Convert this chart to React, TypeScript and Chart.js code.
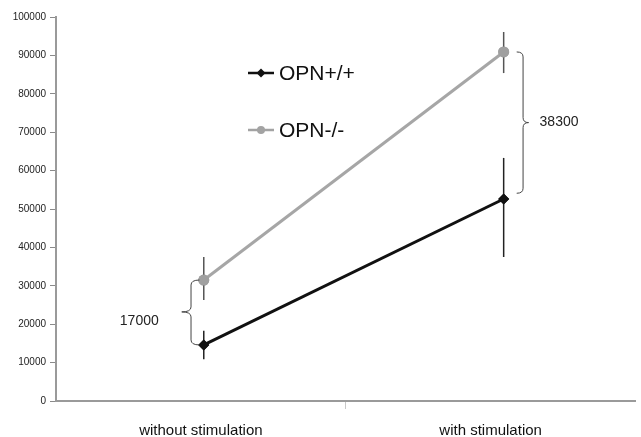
import React, { useEffect, useRef } from "react";
import { Chart, registerables } from "chart.js";

Chart.register(...registerables);

const categories = ["without stimulation", "with stimulation"];
const pointX = [0.51, 1.545];
const seriesNames = ["OPN+/+", "OPN-/-"];
const wildType = [14600, 52600];
const wildTypeLow = [10900, 37500];
const wildTypeHigh = [18300, 63300];
const knockout = [31500, 90900];
const knockoutLow = [26300, 85400];
const knockoutHigh = [37500, 96100];
const differenceLabels = ["17000", "38300"];
const yTicks = [0, 10000, 20000, 30000, 40000, 50000, 60000, 70000, 80000, 90000, 100000];

const FONT = "'Liberation Sans', Arial, sans-serif";

function drawBrace(
  ctx: CanvasRenderingContext2D,
  xLine: number,
  xTip: number,
  xEnd: number,
  yTop: number,
  yBottom: number,
  yMid: number
) {
  const r = 5;
  ctx.beginPath();
  ctx.moveTo(xEnd, yTop);
  ctx.quadraticCurveTo(xLine, yTop, xLine, yTop + r);
  ctx.lineTo(xLine, yMid - r);
  ctx.quadraticCurveTo(xLine, yMid, xTip, yMid);
  ctx.quadraticCurveTo(xLine, yMid, xLine, yMid + r);
  ctx.lineTo(xLine, yBottom - r);
  ctx.quadraticCurveTo(xLine, yBottom, xEnd, yBottom);
  ctx.stroke();
}

const overlayPlugin = {
  id: "overlay",
  afterDatasetsDraw(chart: any) {
    const ctx: CanvasRenderingContext2D = chart.ctx;
    const xs = chart.scales.x;
    const ys = chart.scales.y;
    ctx.save();
    // error bars
    const bars = [
      { x: pointX, lo: knockoutLow, hi: knockoutHigh, color: "#555" },
      { x: pointX, lo: wildTypeLow, hi: wildTypeHigh, color: "#222" },
    ];
    bars.forEach((b) => {
      ctx.strokeStyle = b.color;
      ctx.lineWidth = 1.5;
      b.x.forEach((xv, i) => {
        const px = xs.getPixelForValue(xv);
        ctx.beginPath();
        ctx.moveTo(px, ys.getPixelForValue(b.hi[i]));
        ctx.lineTo(px, ys.getPixelForValue(b.lo[i]));
        ctx.stroke();
      });
    });
    // redraw points on top of bars
    chart.getSortedVisibleDatasetMetas().forEach((meta: any) => {
      meta.data.forEach((el: any) => el.draw(ctx, chart.chartArea));
    });
    // braces
    ctx.strokeStyle = "#444";
    ctx.lineWidth = 1;
    const b1 = {
      line: xs.getPixelForValue(0.466),
      tip: xs.getPixelForValue(0.434),
      end: xs.getPixelForValue(0.495),
      top: ys.getPixelForValue(knockout[0]),
      bot: ys.getPixelForValue(wildType[0]),
    };
    drawBrace(ctx, b1.line, b1.tip, b1.end, b1.top, b1.bot, ys.getPixelForValue(23200));
    const b2 = {
      line: xs.getPixelForValue(1.612),
      tip: xs.getPixelForValue(1.631),
      end: xs.getPixelForValue(1.59),
      top: ys.getPixelForValue(knockout[1]),
      bot: ys.getPixelForValue(wildType[1] + 1500),
    };
    drawBrace(ctx, b2.line, b2.tip, b2.end, b2.top, b2.bot, ys.getPixelForValue(72500));
    ctx.fillStyle = "#222";
    ctx.font = `14px ${FONT}`;
    ctx.textBaseline = "middle";
    ctx.textAlign = "right";
    ctx.fillText(differenceLabels[0], b1.tip - 23, ys.getPixelForValue(20800));
    ctx.textAlign = "left";
    ctx.fillText(differenceLabels[1], b2.tip + 11, ys.getPixelForValue(72500));

    // legend
    const items = [
      { name: seriesNames[0], color: "#111", style: "rectRot", y: 73 },
      { name: seriesNames[1], color: "#a3a3a3", style: "circle", y: 130 },
    ];
    items.forEach((it) => {
      ctx.strokeStyle = it.color;
      ctx.lineWidth = 2.5;
      ctx.beginPath();
      ctx.moveTo(248, it.y);
      ctx.lineTo(274, it.y);
      ctx.stroke();
      ctx.fillStyle = it.color;
      ctx.beginPath();
      if (it.style === "circle") {
        ctx.arc(261, it.y, 4, 0, Math.PI * 2);
      } else {
        ctx.moveTo(261, it.y - 4.5);
        ctx.lineTo(265.5, it.y);
        ctx.lineTo(261, it.y + 4.5);
        ctx.lineTo(256.5, it.y);
        ctx.closePath();
      }
      ctx.fill();
      ctx.fillStyle = "#111";
      ctx.font = `21px ${FONT}`;
      ctx.textAlign = "left";
      ctx.textBaseline = "middle";
      ctx.fillText(it.name, 279, it.y + 1);
    });
    ctx.restore();
  },
};

export default function App() {
  const canvasRef = useRef<HTMLCanvasElement | null>(null);

  useEffect(() => {
    if (!canvasRef.current) return;
    const chart = new Chart(canvasRef.current, {
      type: "line",
      data: {
        datasets: [
          {
            label: seriesNames[1],
            data: pointX.map((x, i) => ({ x, y: knockout[i] })),
            borderColor: "#a6a6a6",
            backgroundColor: "#a0a0a0",
            borderWidth: 3,
            pointStyle: "circle",
            pointRadius: 5.5,
            pointBorderWidth: 0,
          },
          {
            label: seriesNames[0],
            data: pointX.map((x, i) => ({ x, y: wildType[i] })),
            borderColor: "#111",
            backgroundColor: "#111",
            borderWidth: 3,
            pointStyle: "rectRot",
            pointRadius: 5.5,
            pointBorderWidth: 0,
          },
        ],
      },
      options: {
        animation: false,
        responsive: false,
        maintainAspectRatio: false,
        layout: { padding: { top: 17, right: 1, left: 0, bottom: 0 } },
        plugins: { legend: { display: false }, tooltip: { enabled: false } },
        scales: {
          x: {
            type: "linear",
            min: 0,
            max: 2,
            afterBuildTicks: (axis: any) => {
              axis.ticks = [0, 0.5, 1, 1.5, 2].map((v) => ({ value: v }));
            },
            afterFit: (axis: any) => {
              axis.height = 36;
              axis.paddingRight = 0;
              axis.paddingLeft = 0;
            },
            ticks: {
              autoSkip: false,
              maxRotation: 0,
              padding: 13,
              color: "#111",
              font: { family: FONT, size: 15 },
              callback: (v: any) => (v === 0.5 ? categories[0] : v === 1.5 ? categories[1] : ""),
            },
            grid: {
              drawOnChartArea: false,
              drawTicks: true,
              tickLength: 8,
              color: (c: any) => (c.tick && c.tick.value === 1 ? "#c8c8c8" : "rgba(0,0,0,0)"),
            },
            border: { display: true, color: "#9a9a9a", width: 2 },
          },
          y: {
            type: "linear",
            min: 0,
            max: 100000,
            afterBuildTicks: (axis: any) => {
              axis.ticks = yTicks.map((v) => ({ value: v }));
            },
            afterFit: (axis: any) => {
              axis.width = 56;
              axis.paddingTop = 0;
              axis.paddingBottom = 0;
            },
            ticks: {
              padding: 4,
              color: "#222",
              font: { family: FONT, size: 10 },
              callback: (v: any) => String(v),
            },
            grid: {
              drawOnChartArea: false,
              drawTicks: true,
              tickLength: 6,
              color: "#8a8a8a",
            },
            border: { display: true, color: "#9a9a9a", width: 2 },
          },
        },
      },
      plugins: [overlayPlugin],
    });
    return () => chart.destroy();
  }, []);

  return (
    <div style={{ position: "absolute", left: 0, top: 0, width: 641, height: 437, background: "#fff" }}>
      <canvas ref={canvasRef} width={641} height={437} style={{ width: 641, height: 437 }} />
    </div>
  );
}
